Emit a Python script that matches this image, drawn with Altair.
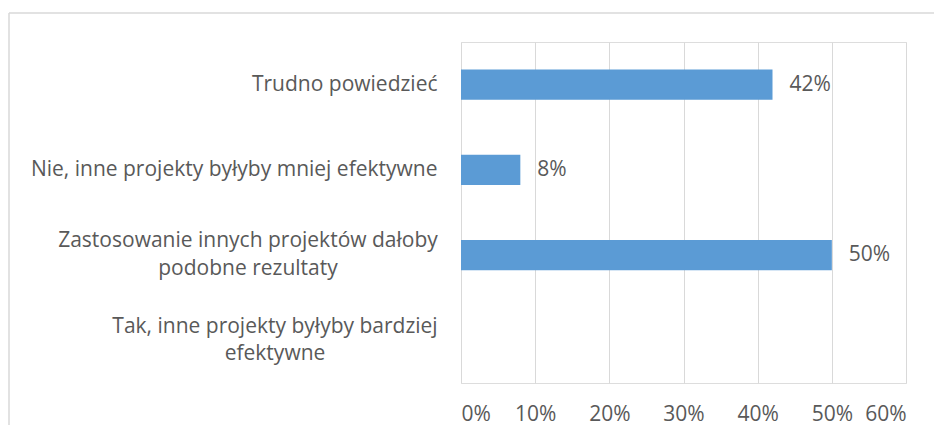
import altair as alt
import pandas as pd

categories = [
    "Trudno powiedzieć",
    "Nie, inne projekty byłyby mniej efektywne",
    "Zastosowanie innych projektów dałoby|podobne rezultaty",
    "Tak, inne projekty byłyby bardziej|efektywne",
]
values = [0.42, 0.08, 0.50, 0.0]
value_labels = ["42%", "8%", "50%", ""]
x_ticks = [0.0, 0.1, 0.2, 0.3, 0.4, 0.5, 0.6]

df = pd.DataFrame({"cat": categories, "val": values, "lbl": value_labels})

W, H = 445, 341
FONT = "Open Sans"
FS = 21
LH = 27.5
TXT = "#595959"
GRID = "#d9d9d9"
BAR = "#5b9bd5"
LABEL_PAD = 24
# centres (relative to the plot's left edge) of the wrapped two-line labels,
# whose lines are centred on each other as in the reference
WRAPPED_CENTRES = {categories[2]: -24 - 189, categories[3]: -24 - 162}

x_enc = alt.X(
    "val:Q",
    scale=alt.Scale(domain=[0, 0.6], nice=False),
    axis=alt.Axis(
        values=x_ticks, format=".0%", grid=True, gridColor=GRID, gridWidth=1,
        domain=False, ticks=False, labelPadding=20, labelFont=FONT,
        labelFontSize=FS, labelColor=TXT, title=None,
    ),
)
y_scale = alt.Scale(paddingInner=0.648, paddingOuter=0.324)
y_enc = alt.Y(
    "cat:N",
    sort=categories,
    scale=y_scale,
    axis=alt.Axis(
        labelExpr="indexof(datum.label, '|') >= 0 ? '' : datum.label",
        domain=False, ticks=False, grid=False, labelPadding=LABEL_PAD,
        labelFont=FONT, labelFontSize=FS, labelColor=TXT,
        labelLimit=0, title=None,
    ),
)

bars = alt.Chart(df).mark_bar(color=BAR).encode(x=x_enc, y=y_enc)
texts = alt.Chart(df).mark_text(
    align="left", baseline="middle", dx=17, font=FONT, fontSize=FS, color=TXT
).encode(x="val:Q", y=alt.Y("cat:N", sort=categories), text="lbl:N")

wrapped_layers = []
for cat, cx in WRAPPED_CENTRES.items():
    wrapped_layers.append(
        alt.Chart(df)
        .transform_filter(alt.datum.cat == cat)
        .mark_text(align="center", baseline="middle", lineBreak="|",
                   lineHeight=LH, dy=-LH / 2, font=FONT, fontSize=FS, color=TXT)
        .encode(x=alt.value(cx), y=alt.Y("cat:N", sort=categories), text="cat:N")
    )

frame_df = pd.DataFrame({"k": [0]})
left_line = alt.Chart(frame_df).mark_rule(color=GRID, strokeWidth=1.5).encode(
    x=alt.value(-452), y=alt.value(-29), y2=alt.value(H + 120)
)
top_line = alt.Chart(frame_df).mark_rule(color=GRID, strokeWidth=1.5).encode(
    x=alt.value(-452), x2=alt.value(W + 120), y=alt.value(-29)
)

chart = alt.layer(left_line, top_line, bars, texts, *wrapped_layers).properties(
    width=W, height=H,
    autosize=alt.AutoSizeParams(type="none"),
    padding={"left": 453, "top": 34, "right": 28, "bottom": 42},
).configure_view(stroke=None).configure(background="white")

chart.save("out.html", embed_options={"renderer": "svg", "actions": False})
